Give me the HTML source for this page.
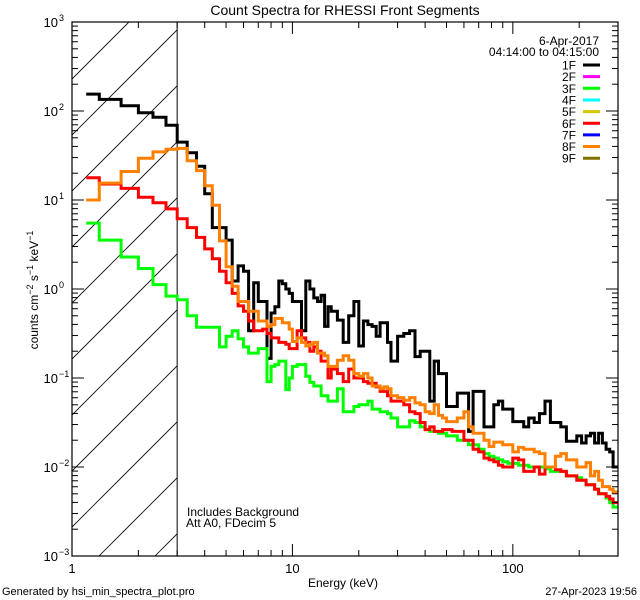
<!DOCTYPE html>
<html><head><meta charset="utf-8"><style>
body{margin:0;background:#fff;}
svg{display:block;font-family:"Liberation Sans",sans-serif;}
</style></head><body>
<svg id="chart" width="640" height="600" viewBox="0 0 640 600" xmlns="http://www.w3.org/2000/svg">
<rect width="640" height="600" fill="#fff"/>
<text x="345" y="15" font-size="14" text-anchor="middle">Count Spectra for RHESSI Front Segments</text>
<g id="hatch"></g>
<g id="series"></g>
<g id="axes"></g>
<g id="legend"></g>
<text x="187" y="516" font-size="12">Includes Background</text>
<text x="186" y="527" font-size="12">Att A0, FDecim 5</text>
<text x="343" y="587" font-size="12" text-anchor="middle">Energy (keV)</text>
<text transform="translate(38,290) rotate(-90)" font-size="12" text-anchor="middle">counts cm<tspan dy="-5" font-size="9">−2</tspan><tspan dy="5"> s</tspan><tspan dy="-5" font-size="9">−1</tspan><tspan dy="5"> keV</tspan><tspan dy="-5" font-size="9">−1</tspan></text>
<text x="2" y="595" font-size="11">Generated by hsi_min_spectra_plot.pro</text>
<text x="637" y="595" font-size="11" text-anchor="end">27-Apr-2023 19:56</text>
</svg>
<script>
const edges = [1.16,1.33,1.67,2,2.33,2.67,3,3.33,3.67,4,4.33,4.67,5,5.33,5.67,6,6.33,6.67,7,7.33,7.67,8,8.33,8.67,9,9.33,9.67,10,
10.5,11,11.5,12,12.5,13,13.5,14,14.5,15,
16,17,18,19,20,21,22,23,24,25,26,27,28,
30,32,34,36,38,40,42,44,46,48,50,
53,56,60,63,66,70,74,78,82,86,90,95,100,
106,112,118,125,132,140,148,156,165,175,185,195,205,215,225,235,245,255,265,275,285,300];
const log1F = [2.19,2.13,2.06,1.98,1.93,1.84,1.65,1.53,1.38,1.07,0.69,0.69,0.55,0.09,0.26,0.2,-0.47,0.07,-0.14,-0.14,-0.78,-0.27,-0.2,0.09,0.06,0.0,-0.05,
-0.14,-0.14,-0.47,0.09,0.0,-0.1,-0.14,-0.07,-0.42,-0.2,
-0.25,-0.35,-0.6,-0.3,-0.14,-0.64,-0.36,-0.4,-0.42,-0.53,-0.38,-0.38,-0.6,
-0.81,-0.53,-0.5,-0.47,-0.76,-0.7,-0.7,-1.26,-0.81,-0.95,-0.95,
-1.32,-1.32,-1.17,-1.17,-1.6,-1.15,-1.15,-1.55,-1.55,-1.3,-1.26,-1.35,-1.35,
-1.49,-1.49,-1.55,-1.45,-1.5,-1.4,-1.26,-1.5,-1.5,-1.55,-1.71,-1.71,-1.65,-1.73,-1.65,-1.62,-1.73,-1.62,-1.73,-1.8,-1.83,-2.0];
const log3F = [0.74,0.55,0.36,0.23,0.05,-0.08,-0.12,-0.3,-0.43,-0.43,-0.43,-0.65,-0.53,-0.47,-0.56,-0.65,-0.72,-0.72,-0.67,-0.67,-1.04,-0.87,-0.85,-0.81,-0.81,-1.13,-1.0,
-0.87,-0.85,-0.85,-0.98,-1.05,-1.09,-1.09,-1.2,-1.2,-1.26,
-1.26,-1.12,-1.38,-1.38,-1.32,-1.3,-1.3,-1.26,-1.35,-1.35,-1.38,-1.38,-1.4,
-1.45,-1.55,-1.55,-1.48,-1.5,-1.55,-1.58,-1.6,-1.6,-1.62,-1.62,
-1.65,-1.65,-1.7,-1.7,-1.75,-1.75,-1.8,-1.85,-1.88,-1.9,-1.92,-1.94,-1.96,
-1.96,-1.98,-1.98,-2.0,-2.0,-2.0,-2.02,-2.05,-2.05,-2.05,-2.1,-2.1,-2.12,-2.15,-2.2,-2.2,-2.25,-2.3,-2.3,-2.35,-2.4,-2.45];
const log6F = [1.25,1.18,1.13,1.03,0.97,0.9,0.79,0.69,0.58,0.45,0.34,0.2,0.07,-0.05,-0.19,-0.25,-0.36,-0.47,-0.47,-0.45,-0.5,-0.55,-0.55,-0.6,-0.6,-0.62,-0.67,
-0.67,-0.47,-0.55,-0.6,-0.7,-0.65,-0.7,-0.81,-0.81,-1.0,
-0.9,-0.95,-1.04,-0.9,-1.0,-1.0,-1.04,-1.06,-1.06,-1.1,-1.15,-1.15,-1.2,
-1.26,-1.26,-1.3,-1.38,-1.4,-1.5,-1.58,-1.55,-1.6,-1.6,-1.58,
-1.58,-1.6,-1.6,-1.7,-1.7,-1.8,-1.83,-1.9,-1.92,-1.94,-1.98,-2.0,-2.0,
-1.9,-1.92,-2.05,-2.05,-2.0,-2.08,-2.0,-2.0,-2.03,-2.05,-2.1,-2.1,-2.15,-2.15,-2.2,-2.2,-2.25,-2.3,-2.3,-2.33,-2.36,-2.4];
const log8F = [1.0,1.19,1.32,1.47,1.54,1.57,1.58,1.44,1.33,1.16,0.94,0.54,0.25,0.03,-0.14,-0.14,-0.25,-0.25,-0.36,-0.36,-0.42,-0.4,-0.33,-0.33,-0.38,-0.38,-0.45,
-0.59,-0.55,-0.6,-0.64,-0.62,-0.6,-0.72,-0.72,-0.75,-0.87,
-0.87,-0.8,-0.75,-0.8,-0.95,-0.98,-0.95,-1.0,-1.09,-1.09,-1.12,-1.1,-1.12,
-1.2,-1.22,-1.25,-1.22,-1.28,-1.3,-1.38,-1.4,-1.3,-1.42,-1.45,
-1.49,-1.49,-1.45,-1.38,-1.55,-1.62,-1.62,-1.7,-1.77,-1.72,-1.72,-1.75,-1.75,
-1.83,-1.78,-1.8,-1.8,-1.83,-1.85,-2.0,-2.0,-1.88,-1.85,-1.92,-1.92,-2.0,-2.0,-1.95,-2.1,-2.05,-2.15,-2.22,-2.22,-2.25,-2.28];
const legendLabels = ["1F","2F","3F","4F","5F","6F","7F","8F","9F"];
const legendColors = ["#000000","#ff00ff","#00ff00","#00ffff","#d4c800","#ff0000","#0000ff","#ff8000","#807000"];
const xTickLabels = ["1","10","100"];
const yTickExps = ["3","2","1","0","−1","−2","−3"];

const NS="http://www.w3.org/2000/svg";
const L=72,R=618,T=22,B=556,XMIN=1,XMAX=300,YMIN=-3,YMAX=3;
const xs=e=>L+(Math.log10(e)-Math.log10(XMIN))/(Math.log10(XMAX)-Math.log10(XMIN))*(R-L);
const ys=lv=>B-(lv-YMIN)/(YMAX-YMIN)*(B-T);
function mk(tag,attrs,parent){const el=document.createElementNS(NS,tag);for(const k in attrs)el.setAttribute(k,attrs[k]);parent.appendChild(el);return el;}

// hatch region 1-3 keV
const hg=document.getElementById('hatch');
const cp=mk('clipPath',{id:'hclip'},hg);
mk('rect',{x:L,y:T,width:xs(3)-L,height:B-T},cp);
const hl=mk('g',{'clip-path':'url(#hclip)'},hg);
for(let c=655-56*12;c<=655+56*4;c+=56){
  const ln=mk('line',{x1:c-B,y1:B,x2:c-T+0,y2:T,stroke:'#000','stroke-width':0.8},hl);
  ln.setAttribute('x1',c-B+0);ln.setAttribute('x2',c-T);
  ln.setAttribute('x1',c-B);ln.setAttribute('y1',B);
  
  
}
// fix hatch: x+y=c -> at y=B, x=c-B
const vl=mk('line',{x1:xs(3),y1:T,x2:xs(3),y2:B,stroke:'#000','stroke-width':1},hg);



// series
const sg=document.getElementById('series');
const cp2=mk('clipPath',{id:'pclip'},sg);
mk('rect',{x:L,y:T,width:R-L,height:B-T},cp2);
const sgi=mk('g',{'clip-path':'url(#pclip)'},sg);
function step(vals,color,name){
  let d='';
  for(let i=0;i<vals.length;i++){
    const x0=xs(edges[i]),x1=xs(edges[i+1]),y=ys(vals[i]);
    d+=(i===0?'M':'L')+x0.toFixed(1)+','+y.toFixed(1)+'L'+x1.toFixed(1)+','+y.toFixed(1);
  }
  const p=mk('path',{d:d,fill:'none',stroke:color,'stroke-width':3,'stroke-linejoin':'miter'},sgi);
  
  
}
step(log1F,'#000000','series-1f');
step(log3F,'#00ff00','series-3f');
step(log6F,'#ff0000','series-6f');
step(log8F,'#ff8000','series-8f');

// axes
const ag=document.getElementById('axes');
const frame=mk('rect',{x:L,y:T,width:R-L,height:B-T,fill:'none',stroke:'#000','stroke-width':1.2},ag);


for(let d=0;d<3;d++){
  for(let m=1;m<=9;m++){
    const e=Math.pow(10,d)*m; if(e>XMAX)break;
    const x=xs(e),len=m===1?12:6;
    mk('line',{x1:x,y1:B,x2:x,y2:B-len,stroke:'#000'},ag);
    mk('line',{x1:x,y1:T,x2:x,y2:T+len,stroke:'#000'},ag);
  }
  const t=mk('text',{x:xs(Math.pow(10,d)),y:573,'font-size':13,'text-anchor':'middle'},ag);
  t.textContent=xTickLabels[d];
  
  
}
for(let d=YMIN;d<=YMAX;d++){
  for(let m=1;m<=9;m++){
    const lv=d+Math.log10(m); if(lv>YMAX)break;
    const y=ys(lv),len=m===1?12:6;
    mk('line',{x1:L,y1:y,x2:L+len,y2:y,stroke:'#000'},ag);
    mk('line',{x1:R,y1:y,x2:R-len,y2:y,stroke:'#000'},ag);
  }
  const t=mk('text',{x:L-14,y:ys(d)+5,'font-size':13,'text-anchor':'end'},ag);
  t.textContent='10';
  
  
  const s=mk('text',{x:L-13,y:ys(d)-1,'font-size':9},ag);
  s.textContent=yTickExps[YMAX-d];
  
  
}

// legend
const lg=document.getElementById('legend');
const d1=mk('text',{x:599,y:45,'font-size':12,'text-anchor':'end'},lg);
d1.textContent='6-Apr-2017';


const d2=mk('text',{x:599,y:56,'font-size':12,'text-anchor':'end'},lg);
d2.textContent='04:14:00 to 04:15:00';


for(let i=0;i<legendLabels.length;i++){
  const y=65+i*11.65;
  const t=mk('text',{x:576,y:y+4.5,'font-size':12,'text-anchor':'end'},lg);
  t.textContent=legendLabels[i];
  
  
  const l=mk('line',{x1:583,y1:y,x2:600,y2:y,stroke:legendColors[i],'stroke-width':3},lg);
  
  
}
</script>
</body></html>
